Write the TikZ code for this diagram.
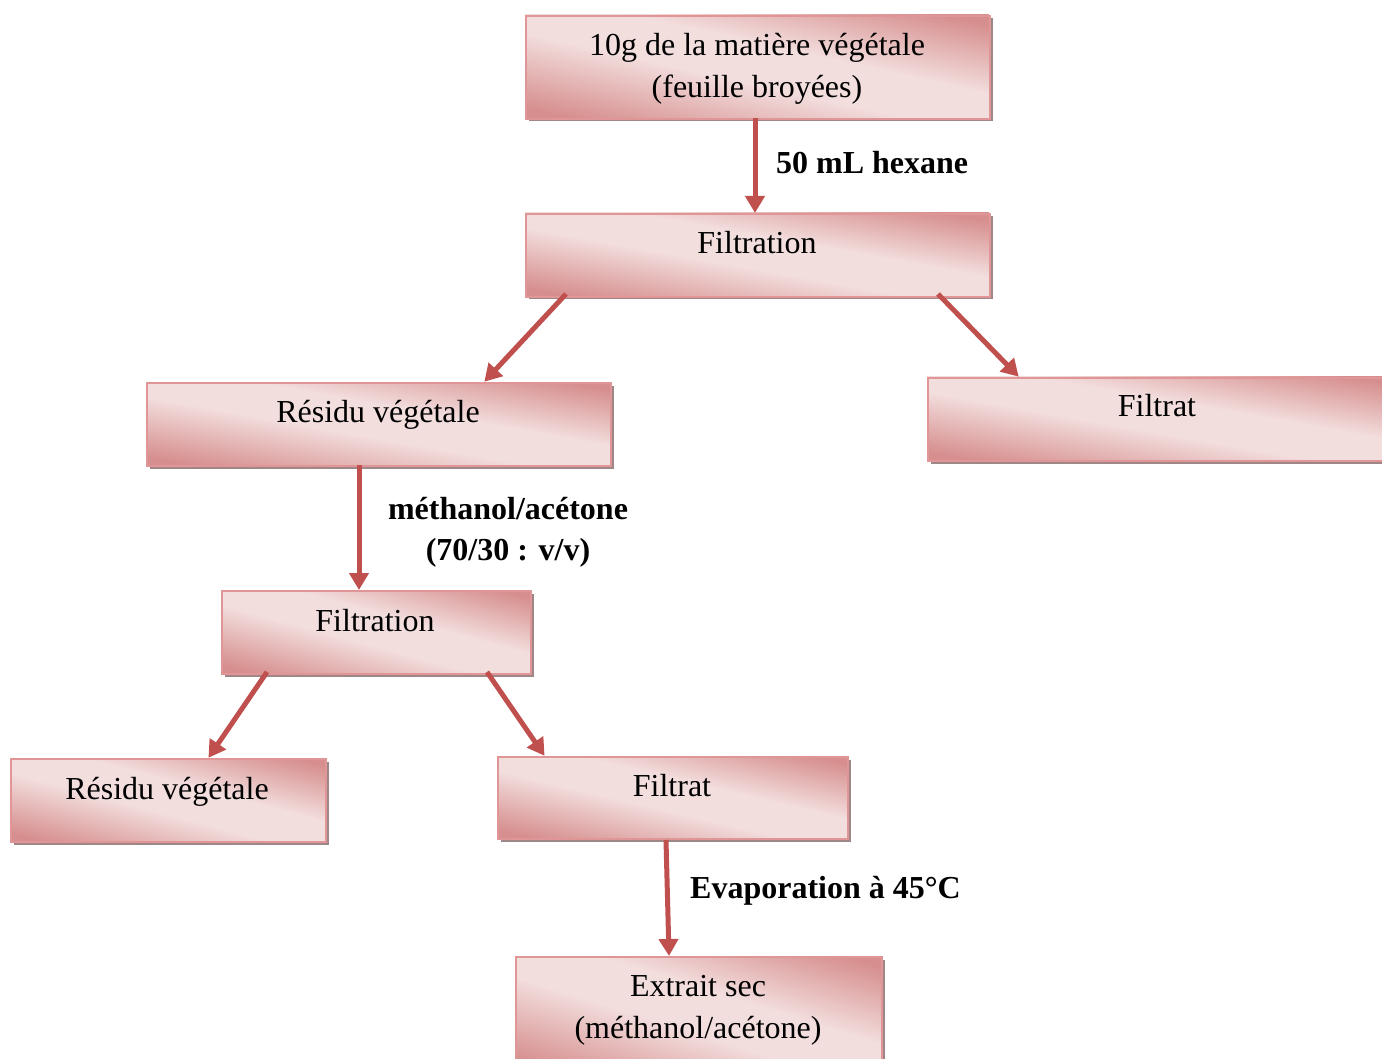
\documentclass[tikz,border=0pt]{standalone}
\usepackage{fontspec}
\setmainfont{Liberation Serif}
\usetikzlibrary{arrows.meta,calc}
\definecolor{dk}{RGB}{214,143,142}
\definecolor{lt}{RGB}{243,222,222}
\definecolor{brd}{RGB}{224,150,150}
\definecolor{shd}{RGB}{160,135,135}
\definecolor{arr}{RGB}{192,80,77}
\pgfdeclarehorizontalshading{pinkband}{100bp}{color(0bp)=(dk); color(18bp)=(dk); color(44bp)=(lt); color(58bp)=(lt); color(82bp)=(dk); color(100bp)=(dk)}
\tikzset{
  boxb/.style={draw=brd, line width=1.6pt, anchor=north west, inner sep=0pt},
  txt/.style={font=\fontsize{32}{42}\selectfont, inner sep=0pt, align=center},
  btxt/.style={font=\fontsize{32}{41}\selectfont\bfseries, inner sep=0pt, align=center},
  conn/.style={draw=arr, line width=5pt, -{Triangle[width=19pt,length=17pt]}, shorten >=-1pt}
}
% #1 name, #2 x, #3 y (top-left, y down), #4 width, #5 height
\newcommand\pinkbox[5]{%
  \fill[shd] (#2+3.5,#3+3.5) rectangle ++(#4,#5);
  \begin{scope}[transform canvas={shift={(#2,#3)}, xscale=#4/100, yscale=#5/100}]
    \shade[shading=pinkband, shading angle=45] (0,0) rectangle (100,100);
  \end{scope}
  \node[boxb, minimum width=#4pt, minimum height=#5pt] (#1) at (#2,#3) {};
}
\begin{document}
\begin{tikzpicture}[x=1pt,y=-1pt]
\useasboundingbox (0,0) rectangle (1382,1059);
\clip (0,0) rectangle (1382,1059);
% boxes
\pinkbox{b1}{525}{15}{464}{103}
\pinkbox{b2}{525}{213}{464}{83}
\pinkbox{b3}{146}{382}{464}{83}
\pinkbox{b4}{927}{377}{470}{83}
\pinkbox{b5}{221}{590}{309}{83}
\pinkbox{b6}{10}{758}{315}{83}
\pinkbox{b7}{497}{756}{350}{82}
\pinkbox{b8}{515}{956}{366}{115}
% texts
\node[txt] (t1) at (757,69) {10g de la matière végétale\\(feuille broyées)};
\node[txt, anchor=base] (t2) at (757,254) {Filtration};
\node[txt, anchor=base] (t3) at (378,422) {Résidu végétale};
\node[txt, anchor=base] (t4) at (1157,417) {Filtrat};
\node[txt, anchor=base] (t5) at (375,631) {Filtration};
\node[txt, anchor=base] (t6) at (167,799) {Résidu végétale};
\node[txt, anchor=base] (t7) at (672,796) {Filtrat};
\node[txt] (t8) at (698,1010) {Extrait sec\\(méthanol/acétone)};
% labels
\node[btxt, anchor=base west] (l1) at (776,174) {50 mL hexane};
\node[btxt] (l2) at (508,532) {méthanol/acétone\\(70/30 : v/v)};
\node[btxt, anchor=base west] (l3) at (690,898) {Evaporation à 45°C};
% connectors
\coordinate (a1s) at (755,118); \coordinate (a1e) at (755,212);
\coordinate (a2s) at (566,294); \coordinate (a2e) at (485,381);
\coordinate (a3s) at (938,294); \coordinate (a3e) at (1018,376);
\coordinate (a4s) at (359,465); \coordinate (a4e) at (359,589);
\coordinate (a5s) at (267,672); \coordinate (a5e) at (209,757);
\coordinate (a6s) at (487,672); \coordinate (a6e) at (544,755);
\coordinate (a7s) at (666,840); \coordinate (a7e) at (669,955);
\draw[conn] (a1s) -- (a1e);
\draw[conn] (a2s) -- (a2e);
\draw[conn] (a3s) -- (a3e);
\draw[conn] (a4s) -- (a4e);
\draw[conn] (a5s) -- (a5e);
\draw[conn] (a6s) -- (a6e);
\draw[conn] (a7s) -- (a7e);
\end{tikzpicture}
\end{document}
